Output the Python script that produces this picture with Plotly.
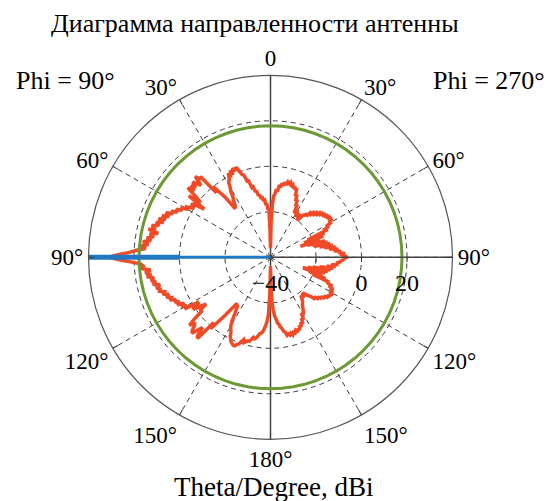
import plotly.graph_objects as go

# ---------------- data ----------------
# Phi = 90 deg cut (drawn on the left half); theta in degrees, gain in dBi
theta_phi90 = list(range(0, 181))
gain_phi90 = [
    -36, -28, -18, -19, -16, -17, -14, -15, -13, -14,          # 0-9
    -12, -12.5, -10, -10.5, -7.5, -8, -5, -5, -2, -1.5,        # 10-19
    0.5, 2.5, 1, 2.5, 1, 2, 0, 0.5, -1.5, -2,                  # 20-29
    -4.5, -6, -9, -10, -12, -13, -13.5, -7, -4, 0,             # 30-39
    -3, 7, 6, 8.5, 4, 6, 7.5, 5, 7, 4.5,                       # 40-49
    7.5, 2, -1, 5, -4, 0, 2, 0, 1, 3,                          # 50-59
    2.5, 5, 4, 6.5, 5.5, 8, 7, 10, 8, 11,                      # 60-69
    9, 12, 9.5, 12.5, 11, 14, 12, 15, 10.5, 14,                # 70-79
    12, 15, 13, 16.5, 14, 17, 15, 19, 22, 27,                  # 80-89
    31,                                                        # 90
    26, 21, 17, 16, 17, 13, 15.5, 13, 15,                      # 91-99
    12, 13.5, 11.5, 13, 10, 12, 10.5, 11, 9, 10,               # 100-109
    7.5, 9, 7, 8, 5.5, 6.5, 4.5, 6, 3, 4,                      # 110-119
    2.5, 4, -3, 0, 1, -3, -5, -1, -2, 3,                       # 120-129
    6.5, 4, 5, 7, 8, 5, 3, 7, 8, -2,                           # 130-139
    1, -4, -8, -12, -15, -14, -14, -12, -10, -7,               # 140-149
    -5, -4, -3, -1, 0, 1, 1.5, 2, 2, 1,                        # 150-159
    0.5, -1, -2, -1, -1.5, -2, -2, -3, -4, -3.5,               # 160-169
    -4, -5, -6, -6.5, -7, -8.5, -10, -12, -15, -25,            # 170-179
    -36,                                                       # 180
]

# Phi = 270 deg cut (drawn on the right half)
theta_phi270 = list(range(0, 181))
gain_phi270 = [
    -36, -25, -17, -13, -12, -10, -11, -8, -9, -7,             # 0-9
    -8, -6.5, -7.5, -6, -6.5, -5.8, -7, -6.5, -8, -7,          # 10-19
    -8.5, -7.5, -11, -10, -13, -12, -15, -14, -18, -17,        # 20-29
    -16, -18, -19, -18, -17, -19, -20, -18, -16, -16.5,        # 30-39
    -15, -16, -13, -15, -12, -14, -11, -13, -10, -12,          # 40-49
    -9.5, -11, -9, -10.5, -8.5, -10, -8, -9.5, -8, -10,        # 50-59
    -9, -12, -11, -14, -12, -22, -14, -24, -15, -20,           # 60-69
    -26, -17, -23, -15, -21, -14, -20, -13, -18, -12,          # 70-79
    -16, -11, -14, -10, -12, -9, -10, -8, -8.5, -7,            # 80-89
    -6.5,                                                      # 90
    -7.5, -8, -9, -9.5, -11, -10, -13, -11, -15,               # 91-99
    -12, -18, -13, -21, -14, -23, -15, -24, -25, -16,          # 100-109
    -22, -14, -20, -12, -13, -10, -11.5, -9, -10.5, -8.5,      # 110-119
    -10, -8, -9.5, -8.5, -10, -9, -11, -10, -12, -11,          # 120-129
    -13, -12, -14, -13, -15, -16, -17, -18, -19, -18,          # 130-139
    -17, -18, -18, -17, -16, -15.5, -15, -14, -13, -12,        # 140-149
    -11, -12, -9, -10, -7.5, -8.5, -6.5, -7.5, -5.5, -6.5,     # 150-159
    -5, -6, -5, -5.5, -4.5, -5.5, -4.8, -5.5, -5, -6.5,        # 160-169
    -7, -8.5, -9, -10.5, -11, -13, -14, -17, -20, -26,         # 170-179
    -36,                                                       # 180
]

ring_level = 17.8                 # green reference circle, dBi
ring_angles = list(range(0, 361, 5))

blue_angle = 90                   # Phi = 90, Theta = 90 direction
blue_r_thin = [-40, 40]
blue_r_thick = [0, 40]

r_range = [-40, 40]
r_tickvals = [-40, -20, 0, 20]
r_ticktext = ["\u221240", "", "0", "20"]
a_tickvals = [0, 30, 60, 90, 120, 150, 180, 210, 240, 270, 300, 330]
a_ticktext = ["0", "30°", "60°", "90°", "120°", "150°", "180°", "150°", "120°", "90°", "60°", "30°"]

title_text = "Диаграмма направленности антенны"
left_label = "Phi = 90°"
right_label = "Phi = 270°"
bottom_label = "Theta/Degree, dBi"

# ---------------- figure ----------------
FONT = "Liberation Serif"
GRID = "#3a3a3a"

# closed red curve: left half (phi 90) then right half (phi 270) back to the top
red_theta = list(theta_phi90) + [360 - t for t in reversed(theta_phi270)]
red_r = list(gain_phi90) + list(reversed(gain_phi270))

fig = go.Figure()

# solid vertical axis line (0 - 180)
fig.add_trace(go.Scatterpolar(theta=[0, 0, 180], r=[r_range[1], r_range[0], r_range[1]],
                              mode="lines", line=dict(color="#444444", width=1.5),
                              hoverinfo="skip", showlegend=False))

fig.add_trace(go.Scatterpolar(theta=red_theta, r=red_r, mode="lines",
                              line=dict(color="#f04a26", width=3.5), showlegend=False))

fig.add_trace(go.Scatterpolar(theta=ring_angles, r=[ring_level] * len(ring_angles), mode="lines",
                              line=dict(color="#6b9a34", width=3), showlegend=False))

fig.add_trace(go.Scatterpolar(theta=[blue_angle] * 2, r=blue_r_thin, mode="lines",
                              line=dict(color="#1f78c1", width=3), showlegend=False))
fig.add_trace(go.Scatterpolar(theta=[blue_angle] * 2, r=blue_r_thick, mode="lines",
                              line=dict(color="#1f78c1", width=5), showlegend=False))

# the page body has an 8px margin; size the figure so it fills the window exactly
OFF = 8
W, H = 556 - OFF, 501 - OFF
cx, cy, R = 270.5 - OFF, 257.3 - OFF, 182


def px(x):
    return (x - OFF) / W


def py(y):
    return 1 - (y - OFF) / H


fig.update_layout(
    width=W, height=H,
    margin=dict(l=0, r=0, t=0, b=0),
    paper_bgcolor="white",
    plot_bgcolor="white",
    font=dict(family=FONT, color="black", size=23),
    showlegend=False,
    polar=dict(
        domain=dict(x=[(cx - R) / W, (cx + R) / W], y=[(H - cy - R) / H, (H - cy + R) / H]),
        bgcolor="white",
        angularaxis=dict(
            rotation=90, direction="counterclockwise",
            tickmode="array", tickvals=a_tickvals, ticktext=a_ticktext,
            showline=True, linecolor="#555555", linewidth=1.2,
            showgrid=True, gridcolor=GRID, gridwidth=1, griddash="5px,4px",
            ticks="inside", ticklen=5, tickcolor="#333333",
            tickfont=dict(family=FONT, size=23, color="black"),
        ),
        radialaxis=dict(
            range=r_range, angle=0, side="clockwise",
            tickmode="array", tickvals=r_tickvals, ticktext=r_ticktext,
            showline=True, linecolor="#444444", linewidth=1.5,
            showgrid=True, gridcolor=GRID, gridwidth=1, griddash="5px,4px",
            ticks="outside", ticklen=4, tickcolor="#333333",
            tickfont=dict(family=FONT, size=24, color="black"),
            tickangle=0,
        ),
    ),
    annotations=[
        dict(text=title_text, x=px(255), y=1, xref="paper", yref="paper",
             showarrow=False, xanchor="center", yanchor="top", borderpad=0,
             font=dict(family=FONT, size=26)),
        dict(text=left_label, x=px(65), y=py(80), xref="paper", yref="paper",
             showarrow=False, xanchor="center", yanchor="middle", font=dict(family=FONT, size=26)),
        dict(text=right_label, x=px(489), y=py(80), xref="paper", yref="paper",
             showarrow=False, xanchor="center", yanchor="middle", font=dict(family=FONT, size=26)),
        dict(text=bottom_label, x=px(273), y=py(487), xref="paper", yref="paper",
             showarrow=False, xanchor="center", yanchor="middle", font=dict(family=FONT, size=27)),
    ],
)

fig.write_html("out.html")
